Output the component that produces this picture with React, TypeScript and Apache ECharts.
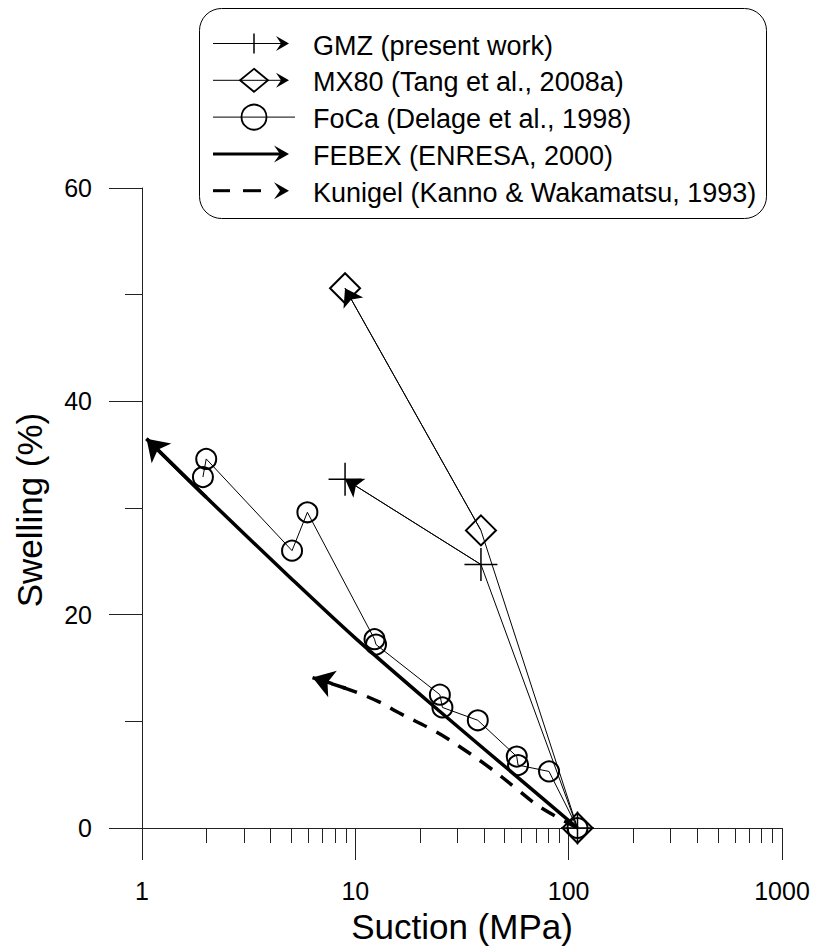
import React, { useEffect, useRef } from 'react';
import * as echarts from 'echarts';

// ---- data ----
const gmzSuction = [110, 38.8, 8.95];
const gmzSwelling = [0, 24.7, 32.7];
const mx80Suction = [110, 38.8, 8.95];
const mx80Swelling = [0, 27.9, 50.6];
const focaSuction = [110, 80.9, 57.9, 57.1, 37.5, 25.6, 24.9, 12.5, 12.3, 5.96, 5.05, 2.0, 1.93];
const focaSwelling = [0, 5.3, 5.9, 6.7, 10.1, 11.3, 12.5, 17.2, 17.7, 29.6, 26.0, 34.6, 32.9];
const febexSuction = [110, 55, 25, 10, 5, 2, 1.05];
const febexSwelling = [0, 5.1, 10.9, 17.8, 23.4, 31.0, 36.5];
const kunigelSuction = [110, 73, 56, 43, 31, 24, 16, 13, 9, 6.3];
const kunigelSwelling = [0, 2.0, 3.8, 5.6, 7.6, 9.0, 10.8, 11.8, 13.1, 14.1];
const xMinorTicks = [2, 3, 4, 5, 6, 7, 8, 9, 20, 30, 40, 50, 60, 70, 80, 90, 200, 300, 400, 500, 600, 700, 800, 900];
const legendNames = [
  'GMZ (present work)',
  'MX80 (Tang et al., 2008a)',
  'FoCa (Delage et al., 1998)',
  'FEBEX (ENRESA, 2000)',
  'Kunigel (Kanno & Wakamatsu, 1993)',
];

const FONT = '"Liberation Sans", Arial, Helvetica, sans-serif';
const AX = '#222';

const zip = (xs: number[], ys: number[]) => xs.map((x, i) => [x, ys[i]]);
const lastSeg = (pts: number[][]) => [pts[pts.length - 2], pts[pts.length - 1]];

const plusPath = 'path://M16,0L16,32M0,16L32,16';

function arrowPoly(tx: number, ty: number, len = 14, half = 7, notch = 9) {
  return [
    [tx, ty],
    [tx - len, ty - half],
    [tx - notch, ty],
    [tx - len, ty + half],
  ];
}

function buildLegend() {
  const rows = [43.5, 80.3, 117.1, 153.9, 190.7];
  const x0 = 213;
  const cx = 254;
  const tip = 289;
  const textX = 313;
  const els: any[] = [];
  els.push({
    type: 'rect',
    shape: { x: 199.5, y: 8.5, width: 567, height: 210, r: 22 },
    style: { fill: '#fff', stroke: '#000', lineWidth: 1 },
    z: 10,
  });
  // GMZ
  let y = rows[0];
  els.push({ type: 'line', shape: { x1: x0, y1: y, x2: tip - 6, y2: y }, style: { stroke: '#000', lineWidth: 1 }, z: 11 });
  els.push({ type: 'line', shape: { x1: cx, y1: y - 10, x2: cx, y2: y + 10 }, style: { stroke: '#000', lineWidth: 1.5 }, z: 11 });
  els.push({ type: 'polygon', shape: { points: arrowPoly(tip, y, 13, 7.5, 8) }, style: { fill: '#000' }, z: 11 });
  // MX80
  y = rows[1];
  els.push({ type: 'line', shape: { x1: x0, y1: y, x2: tip - 6, y2: y }, style: { stroke: '#000', lineWidth: 1 }, z: 11 });
  els.push({
    type: 'polygon',
    shape: { points: [[cx, y - 11.5], [cx + 14, y], [cx, y + 11.5], [cx - 14, y]] },
    style: { fill: 'none', stroke: '#000', lineWidth: 1.8 },
    z: 11,
  });
  els.push({ type: 'polygon', shape: { points: arrowPoly(tip, y, 13, 7.5, 8) }, style: { fill: '#000' }, z: 11 });
  // FoCa
  y = rows[2];
  els.push({ type: 'line', shape: { x1: x0, y1: y, x2: 295, y2: y }, style: { stroke: '#000', lineWidth: 1 }, z: 11 });
  els.push({ type: 'circle', shape: { cx, cy: y, r: 12.5 }, style: { fill: 'none', stroke: '#000', lineWidth: 1.8 }, z: 11 });
  // FEBEX
  y = rows[3];
  els.push({ type: 'line', shape: { x1: x0, y1: y, x2: tip - 8, y2: y }, style: { stroke: '#000', lineWidth: 3 }, z: 11 });
  els.push({ type: 'polygon', shape: { points: arrowPoly(tip, y, 15, 8.5, 9) }, style: { fill: '#000' }, z: 11 });
  // Kunigel
  y = rows[4];
  els.push({ type: 'line', shape: { x1: x0, y1: y, x2: 230, y2: y }, style: { stroke: '#000', lineWidth: 3 }, z: 11 });
  els.push({ type: 'line', shape: { x1: 243, y1: y, x2: 261, y2: y }, style: { stroke: '#000', lineWidth: 3 }, z: 11 });
  els.push({ type: 'polygon', shape: { points: arrowPoly(tip, y, 15, 8.5, 9) }, style: { fill: '#000' }, z: 11 });

  legendNames.forEach((name, i) => {
    els.push({
      type: 'text',
      x: textX,
      y: rows[i] + 2,
      style: { text: name, font: `27px ${FONT}`, fill: '#000', align: 'left', verticalAlign: 'middle' },
      z: 11,
    });
  });
  return els;
}

export default function App() {
  const ref = useRef<HTMLDivElement>(null);
  useEffect(() => {
    if (!ref.current) return;
    const chart = echarts.init(ref.current, undefined, { renderer: 'svg' });
    const gmz = zip(gmzSuction, gmzSwelling);
    const mx80 = zip(mx80Suction, mx80Swelling);
    const foca = zip(focaSuction, focaSwelling);
    const febex = zip(febexSuction, febexSwelling);
    const kunigel = zip(kunigelSuction, kunigelSwelling);

    const option: any = {
      animation: false,
      backgroundColor: '#fff',
      grid: { left: 142, top: 188, width: 640, height: 640, containLabel: false },
      xAxis: {
        type: 'log',
        logBase: 10,
        min: 1,
        max: 1000,
        axisLine: { show: true, onZero: false, lineStyle: { color: AX, width: 1 } },
        axisTick: { show: true, inside: false, length: 32, lineStyle: { color: AX, width: 1 } },
        minorTick: { show: false },
        splitLine: { show: false },
        axisLabel: {
          fontSize: 25,
          fontFamily: FONT,
          color: '#000',
          margin: 50,
          formatter: (v: number) => String(Math.round(v)),
        },
      },
      yAxis: {
        type: 'value',
        min: 0,
        max: 60,
        interval: 20,
        axisLine: { show: true, onZero: false, lineStyle: { color: AX, width: 1 } },
        axisTick: { show: true, inside: false, length: 33, lineStyle: { color: AX, width: 1 } },
        minorTick: { show: true, splitNumber: 2, length: 17, lineStyle: { color: AX, width: 1 } },
        splitLine: { show: false },
        axisLabel: { fontSize: 25, fontFamily: FONT, color: '#000', margin: 50 },
      },
      graphic: [
        {
          type: 'text',
          x: 462,
          y: 926,
          style: { text: 'Suction (MPa)', font: `35px ${FONT}`, fill: '#000', align: 'center', verticalAlign: 'middle' },
        },
        {
          type: 'text',
          x: 29,
          y: 510,
          rotation: Math.PI / 2,
          style: { text: 'Swelling (%)', font: `35px ${FONT}`, fill: '#000', align: 'center', verticalAlign: 'middle' },
        },
        ...buildLegend(),
      ],
      series: [
        {
          type: 'custom',
          coordinateSystem: 'cartesian2d',
          clip: false,
          silent: true,
          data: xMinorTicks.map((v) => [v, 0]),
          encode: { x: 0, y: 1 },
          renderItem: (params: any, api: any) => {
            const p = api.coord([api.value(0), api.value(1)]);
            const px = Math.round(p[0]) + 0.5;
            return {
              type: 'line',
              shape: { x1: px, y1: p[1], x2: px, y2: p[1] + 15 },
              style: { stroke: AX, lineWidth: 1 },
            };
          },
        },
        {
          name: 'FEBEX',
          type: 'line',
          data: febex,
          smooth: 0.3,
          showSymbol: false,
          symbol: 'none',
          lineStyle: { color: '#000', width: 3.5, join: 'round' },
          z: 3,
        },
        {
          name: 'Kunigel',
          type: 'line',
          data: kunigel,
          smooth: 0.4,
          showSymbol: false,
          symbol: 'none',
          lineStyle: { color: '#000', width: 3.5, type: [15, 11] },
          z: 3,
        },
        {
          name: 'FoCa',
          type: 'line',
          data: foca,
          symbol: 'circle',
          symbolSize: 20,
          lineStyle: { color: '#000', width: 1 },
          itemStyle: { color: 'transparent', borderColor: '#000', borderWidth: 2 },
          z: 4,
        },
        {
          name: 'GMZ',
          type: 'line',
          data: gmz,
          symbol: plusPath,
          symbolSize: 33,
          lineStyle: { color: '#000', width: 1 },
          itemStyle: { color: 'transparent', borderColor: '#000', borderWidth: 1.5 },
          z: 4,
        },
        {
          name: 'MX80',
          type: 'line',
          data: mx80,
          symbol: 'diamond',
          symbolSize: 30,
          lineStyle: { color: '#000', width: 1 },
          itemStyle: { color: 'transparent', borderColor: '#000', borderWidth: 2 },
          z: 4,
        },
        {
          type: 'lines',
          coordinateSystem: 'cartesian2d',
          silent: true,
          symbol: ['none', 'arrow'],
          symbolSize: [13, 17],
          lineStyle: { color: '#000', width: 1, opacity: 1, curveness: 0 },
          data: [{ coords: lastSeg(gmz) }, { coords: lastSeg(mx80) }],
          z: 5,
        },
        {
          type: 'lines',
          coordinateSystem: 'cartesian2d',
          silent: true,
          symbol: ['none', 'arrow'],
          symbolSize: [17, 21],
          lineStyle: { color: '#000', width: 3.5, opacity: 1, curveness: 0 },
          data: [{ coords: lastSeg(febex) }],
          z: 5,
        },
        {
          type: 'lines',
          coordinateSystem: 'cartesian2d',
          silent: true,
          symbol: ['none', 'arrow'],
          symbolSize: [17, 21],
          lineStyle: { color: '#000', width: 3.5, opacity: 1, curveness: 0, type: [15, 11] },
          data: [{ coords: lastSeg(kunigel) }],
          z: 5,
        },
      ],
    };
    chart.setOption(option);
    return () => chart.dispose();
  }, []);
  return <div ref={ref} style={{ position: 'fixed', left: 0, top: 0, width: 819, height: 951, background: '#fff' }} />;
}
